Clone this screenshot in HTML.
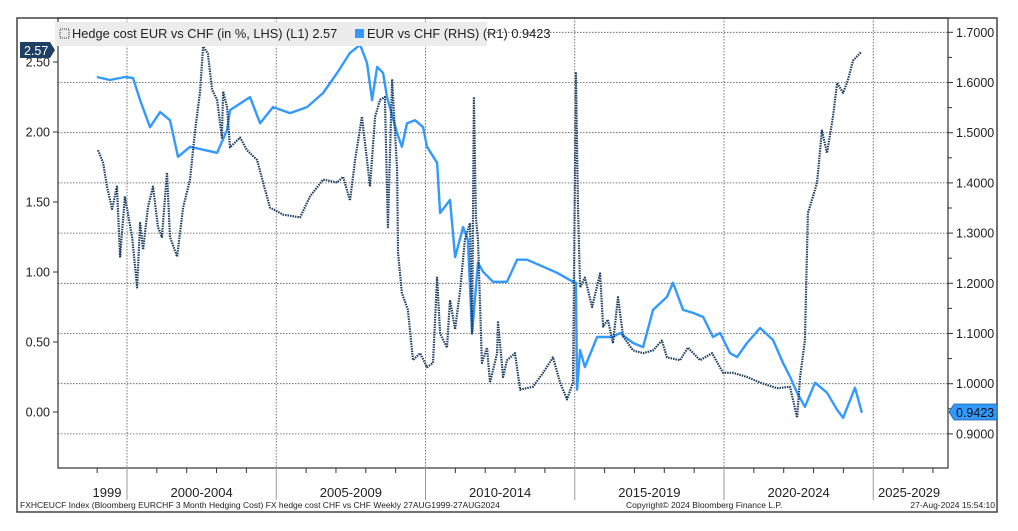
<!DOCTYPE html>
<html><head><meta charset="utf-8">
<style>
body{margin:0;background:#fff;width:1018px;height:531px;overflow:hidden;font-family:"Liberation Sans",sans-serif}
svg{display:block}
</style></head>
<body>
<svg id="chart" width="1018" height="531" xmlns="http://www.w3.org/2000/svg">
<rect x="17" y="18" width="980" height="494" fill="none" stroke="#444" stroke-width="1.5"/>
<g id="grid"></g>
<g id="series"></g>
<rect x="58" y="18" width="890" height="450" fill="none" stroke="#333" stroke-width="1.2"/>
<g id="axes"></g>
<g>
<rect x="55" y="22" width="432" height="24" fill="#ececec"/>
<rect x="60" y="29" width="9" height="9" fill="none" stroke="#333" stroke-dasharray="1 1"/>
<text x="72" y="38" font-size="12.8" fill="#222">Hedge cost EUR vs CHF (in %, LHS) (L1) 2.57</text>
<rect x="355" y="29" width="9" height="9" fill="#3399ff"/>
<text x="367" y="38" font-size="12.8" fill="#222">EUR vs CHF (RHS) (R1) 0.9423</text>
</g>
<g>
<path d="M20 42 H50 L55 50 L50 58 H20 Z" fill="#1d3f63"/>
<text x="24" y="55" font-size="12.5" fill="#fff">2.57</text>
</g>
<g>
<path d="M954 404 H997 V420 H954 L949 412 Z" fill="#3399ff" stroke="#1d5f9f" stroke-width="0.8"/>
<text x="956" y="417" font-size="12.5" fill="#111">0.9423</text>
</g>
<text x="20" y="508" font-size="8.5" fill="#222">FXHCEUCF Index (Bloomberg EURCHF 3 Month Hedging Cost) FX hedge cost CHF vs CHF  Weekly 27AUG1999-27AUG2024</text>
<text x="626" y="508" font-size="8.5" fill="#222">Copyright© 2024 Bloomberg Finance L.P.</text>
<text x="995" y="508" font-size="8.5" fill="#222" text-anchor="end">27-Aug-2024 15:54:10</text>
</svg>
<script>
const eurDates=[1998.99,1999.43,1999.93,2000.20,2000.44,2000.77,2001.11,2001.44,2001.71,2002.11,2003.02,2003.35,2003.45,2004.12,2004.46,2004.89,2005.46,2006.03,2006.57,2007.04,2007.47,2007.81,2008.04,2008.21,2008.38,2008.58,2008.71,2009.05,2009.21,2009.38,2009.65,2009.92,2010.05,2010.39,2010.49,2010.82,2010.99,2011.26,2011.42,2011.56,2011.76,2011.93,2012.26,2012.73,2013.07,2013.40,2013.94,2014.41,2014.94,2015.04,2015.08,2015.18,2015.34,2015.75,2016.28,2016.52,2016.95,2017.29,2017.62,2018.09,2018.29,2018.63,2018.96,2019.30,2019.63,2019.87,2020.20,2020.44,2020.77,2021.21,2021.64,2021.98,2022.21,2022.45,2022.71,2023.05,2023.45,2023.79,2023.99,2024.39,2024.62];
const eurValues=[1.611,1.605,1.611,1.609,1.565,1.511,1.541,1.525,1.452,1.472,1.460,1.505,1.545,1.571,1.519,1.551,1.539,1.551,1.579,1.619,1.659,1.675,1.639,1.565,1.631,1.619,1.571,1.499,1.472,1.519,1.525,1.511,1.472,1.440,1.340,1.366,1.252,1.312,1.286,1.101,1.241,1.223,1.203,1.203,1.247,1.247,1.233,1.221,1.203,1.201,0.988,1.067,1.033,1.093,1.093,1.101,1.081,1.073,1.147,1.173,1.201,1.147,1.141,1.133,1.093,1.101,1.061,1.053,1.081,1.111,1.087,1.041,1.014,0.982,0.954,1.002,0.982,0.948,0.932,0.992,0.942];
const hedgeDates=[1999.03,1999.20,1999.33,1999.50,1999.66,1999.77,1999.93,2000.17,2000.34,2000.44,2000.54,2000.70,2000.87,2001.04,2001.17,2001.34,2001.44,2001.68,2001.88,2002.11,2002.28,2002.45,2002.55,2002.71,2002.85,2003.02,2003.18,2003.22,2003.35,2003.45,2003.79,2004.02,2004.36,2004.56,2004.79,2005.23,2005.80,2006.13,2006.57,2007.04,2007.24,2007.47,2007.64,2007.87,2008.04,2008.14,2008.31,2008.48,2008.64,2008.74,2008.88,2009.05,2009.08,2009.21,2009.41,2009.58,2009.82,2010.05,2010.25,2010.39,2010.49,2010.72,2010.82,2010.99,2011.16,2011.32,2011.49,2011.56,2011.62,2011.69,2011.76,2011.89,2012.06,2012.16,2012.40,2012.43,2012.60,2012.73,2013.00,2013.17,2013.60,2013.94,2014.27,2014.51,2014.74,2014.94,2015.04,2015.11,2015.18,2015.34,2015.58,2015.85,2015.95,2016.11,2016.28,2016.45,2016.62,2016.95,2017.29,2017.62,2017.92,2018.09,2018.53,2018.79,2019.20,2019.60,2019.97,2020.30,2020.77,2021.21,2021.78,2022.21,2022.45,2022.55,2022.71,2022.81,2022.98,2023.12,2023.28,2023.45,2023.65,2023.79,2023.99,2024.15,2024.32,2024.59];
const hedgeValues=[1.87,1.78,1.61,1.45,1.61,1.11,1.54,1.25,0.89,1.35,1.16,1.46,1.61,1.32,1.25,1.71,1.25,1.11,1.46,1.66,2.01,2.29,2.61,2.56,2.30,2.23,1.96,2.29,2.18,1.89,1.96,1.87,1.80,1.64,1.46,1.41,1.39,1.54,1.66,1.64,1.68,1.51,1.80,2.11,1.80,1.61,2.11,2.23,2.25,1.32,2.37,1.73,1.14,0.85,0.73,0.37,0.42,0.32,0.35,0.96,0.56,0.46,0.80,0.59,0.87,1.23,1.35,0.56,2.25,1.39,1.23,0.35,0.46,0.21,0.42,0.64,0.25,0.37,0.42,0.16,0.18,0.28,0.39,0.21,0.09,0.21,2.42,1.46,0.89,0.96,0.75,0.99,0.61,0.66,0.49,0.82,0.54,0.44,0.42,0.44,0.51,0.39,0.37,0.46,0.37,0.42,0.28,0.28,0.25,0.21,0.17,0.18,-0.04,0.25,0.51,1.42,1.54,1.64,2.01,1.85,2.11,2.35,2.28,2.37,2.51,2.57];
const leftTicks=[0,0.5,1,1.5,2,2.5];
const leftTickLabels=["0.00","0.50","1.00","1.50","2.00","2.50"];
const rightTicks=[0.9,1.0,1.1,1.2,1.3,1.4,1.5,1.6,1.7];
const rightTickLabels=["0.9000","1.0000","1.1000","1.2000","1.3000","1.4000","1.5000","1.6000","1.7000"];
const periodStarts=[2000,2005,2010,2015,2020,2025];
const periodLabels=["1999","2000-2004","2005-2009","2010-2014","2015-2019","2020-2024","2025-2029"];
const periodLabelYears=[1999.33,2002.5,2007.5,2012.5,2017.5,2022.5,2026.2];

const NS="http://www.w3.org/2000/svg";
const X=y=>127+(y-2000)*29.85;
const YL=v=>412-v*140;
const YR=v=>433.9-(v-0.9)*502;
function mk(tag,attrs,parent){const e=document.createElementNS(NS,tag);for(const k in attrs)e.setAttribute(k,attrs[k]);parent.appendChild(e);return e;}
const grid=document.getElementById('grid'),axes=document.getElementById('axes'),series=document.getElementById('series');
rightTicks.forEach((v,i)=>{
  const l=mk('line',{x1:58,x2:948,y1:YR(v),y2:YR(v),stroke:'#555','stroke-dasharray':'1.5 1.5','stroke-width':0.8},grid);
  
  
  mk('line',{x1:948,x2:953,y1:YR(v),y2:YR(v),stroke:'#333'},axes);
  const t=mk('text',{x:956,y:YR(v)+4.5,'font-size':12.5,fill:'#222'},axes);
  t.textContent=rightTickLabels[i];
  
  
  if(i<rightTicks.length-1){mk('line',{x1:948,x2:952,y1:YR(v+0.05),y2:YR(v+0.05),stroke:'#333'},axes);}
});
leftTicks.forEach((v,i)=>{
  mk('line',{x1:53,x2:58,y1:YL(v),y2:YL(v),stroke:'#333'},axes);
  const t=mk('text',{x:50,y:YL(v)+4.5,'font-size':12.5,fill:'#222','text-anchor':'end'},axes);
  t.textContent=leftTickLabels[i];
  
  
});
periodStarts.forEach(p=>{
  const l=mk('line',{x1:X(p),x2:X(p),y1:18,y2:468,stroke:'#555','stroke-dasharray':'1.5 1.5','stroke-width':0.8},grid);
  
  
  mk('line',{x1:X(p),x2:X(p),y1:468,y2:500,stroke:'#999','stroke-width':1},axes);
});
for(let y=1999;y<=2029;y++){if(periodStarts.indexOf(y)<0&&X(y)>58&&X(y)<948)mk('line',{x1:X(y),x2:X(y),y1:468,y2:473,stroke:'#333'},axes);}
periodLabels.forEach((s,i)=>{
  const t=mk('text',{x:X(periodLabelYears[i]),y:497,'font-size':13,fill:'#222','text-anchor':'middle'},axes);
  t.textContent=s;
  
  
});
const pe=eurDates.map((d,i)=>X(d).toFixed(1)+','+YR(eurValues[i]).toFixed(1)).join(' ');
const eur=mk('polyline',{points:pe,fill:'none',stroke:'#3399ff','stroke-width':2.4,'stroke-linejoin':'round'},series);


const ph=hedgeDates.map((d,i)=>X(d).toFixed(1)+','+YL(hedgeValues[i]).toFixed(1)).join(' ');
const hed=mk('polyline',{points:ph,fill:'none',stroke:'#1d3f63','stroke-width':2.2,'stroke-dasharray':'1.5 1','stroke-linejoin':'round'},series);


</script>
</body></html>
